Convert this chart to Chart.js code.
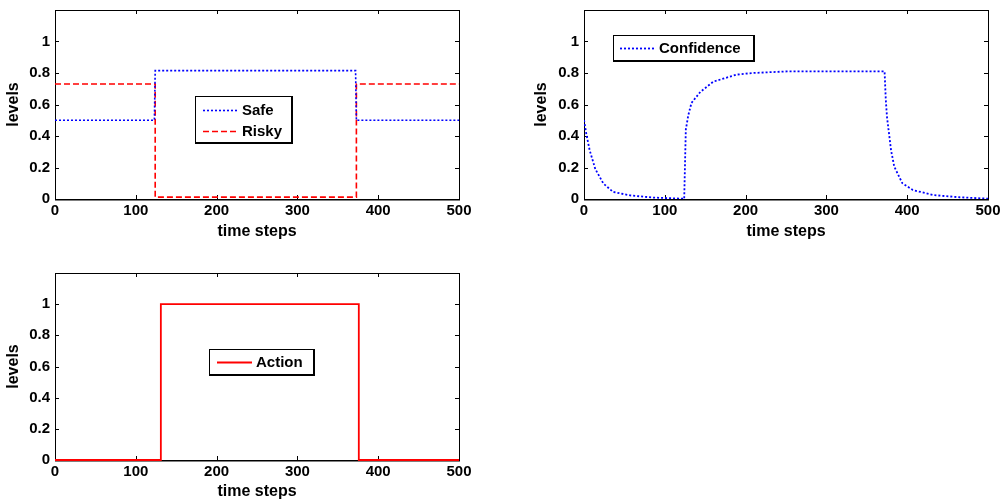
<!DOCTYPE html>
<html>
<head>
<meta charset="utf-8">
<script src="https://cdn.jsdelivr.net/npm/chart.js@4.4.0/dist/chart.umd.min.js"></script>
<style>
  html, body { margin: 0; padding: 0; background: #fff; }
  body { width: 1002px; height: 502px; position: relative; overflow: hidden; }
  canvas { position: absolute; }
</style>
</head>
<body>
<canvas id="c1" width="480" height="250" style="left:0;top:0"></canvas>
<canvas id="c2" width="473" height="250" style="left:529px;top:0"></canvas>
<canvas id="c3" width="480" height="240" style="left:0;top:262px"></canvas>
<script>
// tick values shared by all three panels
var xTicks = [0, 100, 200, 300, 400, 500];
var yTicks = [0, 0.2, 0.4, 0.6, 0.8, 1];

// panel 1: Safe / Risky
var safeSteps = [0, 123, 124, 372, 373, 500];
var safeLevels = [0.5, 0.5, 0.815, 0.815, 0.5, 0.5];
var riskySteps = [0, 124, 124, 373, 373, 500];
var riskyLevels = [0.73, 0.73, 0.012, 0.012, 0.73, 0.73];

// panel 2: Confidence
var confSteps = [0, 3, 7, 14, 24, 36, 57, 86, 123, 124, 126, 129, 133, 144, 160, 189, 209, 251, 372, 373.5, 375, 380, 384, 394, 407, 432, 465, 500];
var confLevels = [0.5, 0.41, 0.31, 0.19, 0.098, 0.045, 0.023, 0.009, 0.002, 0.0, 0.44, 0.53, 0.61, 0.68, 0.745, 0.79, 0.80, 0.81, 0.81, 0.63, 0.52, 0.31, 0.205, 0.10, 0.057, 0.025, 0.011, 0.002];

// panel 3: Action
var actionSteps = [0, 131, 131, 376, 376, 500];
var actionLevels = [0, 0, 1, 1, 0, 0];

var FONT = "'Liberation Sans', Arial, sans-serif";

function toPoints(steps, levels) {
    return steps.map(function(t, i) { return {x: t, y: levels[i]}; });
}

// matlab style box with inward ticks on all four sides
var boxPlugin = {
    id: 'matlabBox',
    beforeDatasetsDraw: function(chart) {
        var ctx = chart.ctx, a = chart.chartArea;
        var xs = chart.scales.x, ys = chart.scales.y;
        ctx.save();
        ctx.strokeStyle = '#000';
        ctx.lineWidth = 1;
        ctx.beginPath();
        xs.ticks.forEach(function(t) {
            var px = Math.round(xs.getPixelForValue(t.value)) + 0.5;
            ctx.moveTo(px, a.bottom); ctx.lineTo(px, a.bottom - 4);
            ctx.moveTo(px, a.top); ctx.lineTo(px, a.top + 4);
        });
        ys.ticks.forEach(function(t) {
            var py = Math.round(ys.getPixelForValue(t.value)) + 0.5;
            ctx.moveTo(a.left, py); ctx.lineTo(a.left + 4, py);
            ctx.moveTo(a.right, py); ctx.lineTo(a.right - 4, py);
        });
        ctx.stroke();
        ctx.strokeRect(Math.round(a.left) + 0.5, Math.round(a.top) + 0.5, Math.round(a.right - a.left), Math.round(a.bottom - a.top));
        ctx.beginPath();
        ctx.lineWidth = 1.5;
        ctx.moveTo(a.left, Math.round(a.bottom) + 0.75);
        ctx.lineTo(a.right + 1, Math.round(a.bottom) + 0.75);
        ctx.stroke();
        ctx.restore();
    }
};

// legend box placed inside the axes, like matlab's
var legendPlugin = {
    id: 'boxLegend',
    afterDraw: function(chart, args, opts) {
        var ctx = chart.ctx, a = chart.chartArea;
        var x = Math.round(a.left + opts.dx), y = Math.round(a.top + opts.dy);
        ctx.save();
        ctx.fillStyle = '#fff';
        ctx.fillRect(x, y, opts.w, opts.h);
        ctx.strokeStyle = '#000';
        ctx.lineWidth = 1;
        ctx.strokeRect(x + 0.5, y + 0.5, opts.w, opts.h);
        ctx.lineWidth = 2;
        ctx.beginPath();
        ctx.moveTo(x + opts.w + 1, y);
        ctx.lineTo(x + opts.w + 1, y + opts.h + 2);
        ctx.moveTo(x, y + opts.h + 1);
        ctx.lineTo(x + opts.w + 2, y + opts.h + 1);
        ctx.stroke();
        chart.data.datasets.forEach(function(ds, i) {
            var cy = y + opts.firstRow + i * opts.rowH;
            ctx.strokeStyle = ds.borderColor;
            ctx.lineWidth = ds.borderWidth;
            ctx.setLineDash(ds.borderDash || []);
            ctx.beginPath();
            ctx.moveTo(x + opts.lineX0, cy + 0.5);
            ctx.lineTo(x + opts.lineX1, cy + 0.5);
            ctx.stroke();
            ctx.setLineDash([]);
            ctx.fillStyle = '#000';
            ctx.font = 'bold 15px ' + FONT;
            ctx.textBaseline = 'middle';
            ctx.fillText(ds.label, x + opts.textX, cy + 1);
        });
        ctx.restore();
    }
};

function makeScales(xHeight, xTitlePad, yTitlePad) {
    return {
        x: {
            type: 'linear', min: 0, max: 500,
            afterBuildTicks: function(s) { s.ticks = xTicks.map(function(v) { return {value: v}; }); },
            afterFit: function(s) { s.height = xHeight; s.paddingLeft = 0; s.paddingRight = 0; },
            grid: {display: false, drawTicks: false}, border: {display: false},
            ticks: {color: '#000', font: {family: FONT, size: 15, weight: 'bold'}, padding: 3, maxRotation: 0, autoSkip: false,
                callback: function(v) { return String(v); }},
            title: {display: true, text: 'time steps', color: '#000', font: {family: FONT, size: 16, weight: 'bold'}, padding: {top: 0, bottom: xTitlePad}}
        },
        y: {
            type: 'linear', min: 0, max: 1.2,
            afterBuildTicks: function(s) { s.ticks = yTicks.map(function(v) { return {value: v}; }); },
            afterFit: function(s) { s.width = 55; s.paddingTop = 0; s.paddingBottom = 0; },
            grid: {display: false, drawTicks: false}, border: {display: false},
            ticks: {color: '#000', font: {family: FONT, size: 15, weight: 'bold'}, padding: 5, autoSkip: false,
                callback: function(v) { return String(v); }},
            title: {display: true, text: 'levels', color: '#000', font: {family: FONT, size: 16, weight: 'bold'}, padding: {top: yTitlePad, bottom: 0}}
        }
    };
}

function makeChart(id, datasets, padding, xHeight, xTitlePad, yTitlePad, legendOpts) {
    return new Chart(document.getElementById(id), {
        type: 'line',
        data: {datasets: datasets},
        options: {
            responsive: false,
            animation: false,
            layout: {padding: padding},
            elements: {point: {radius: 0}, line: {tension: 0}},
            plugins: {legend: {display: false}, tooltip: {enabled: false}, boxLegend: legendOpts},
            scales: makeScales(xHeight, xTitlePad, yTitlePad)
        },
        plugins: [boxPlugin, legendPlugin]
    });
}

makeChart('c1', [
    {label: 'Safe', data: toPoints(safeSteps, safeLevels), borderColor: '#0000ff', borderWidth: 1.6, borderDash: [2, 2], fill: false},
    {label: 'Risky', data: toPoints(riskySteps, riskyLevels), borderColor: '#ff0000', borderWidth: 1.6, borderDash: [6, 3], fill: false}
], {top: 10, right: 21, left: 0, bottom: 0}, 51, 9, 4,
   {dx: 140, dy: 86, w: 96, h: 46, lineX0: 8, lineX1: 42, textX: 47, firstRow: 14, rowH: 21});

makeChart('c2', [
    {label: 'Confidence', data: toPoints(confSteps, confLevels), borderColor: '#0000ff', borderWidth: 1.8, borderDash: [2, 2], fill: false}
], {top: 10, right: 14, left: 0, bottom: 0}, 51, 9, 3,
   {dx: 29, dy: 25, w: 140, h: 25, lineX0: 7, lineX1: 42, textX: 46, firstRow: 13, rowH: 21});

makeChart('c3', [
    {label: 'Action', data: toPoints(actionSteps, actionLevels), borderColor: '#ff0000', borderWidth: 1.8, fill: false, clip: false}
], {top: 11, right: 21, left: 0, bottom: 0}, 42, 1, 4,
   {dx: 154, dy: 76, w: 104, h: 25, lineX0: 8, lineX1: 43, textX: 47, firstRow: 13, rowH: 21});
</script>
</body>
</html>
